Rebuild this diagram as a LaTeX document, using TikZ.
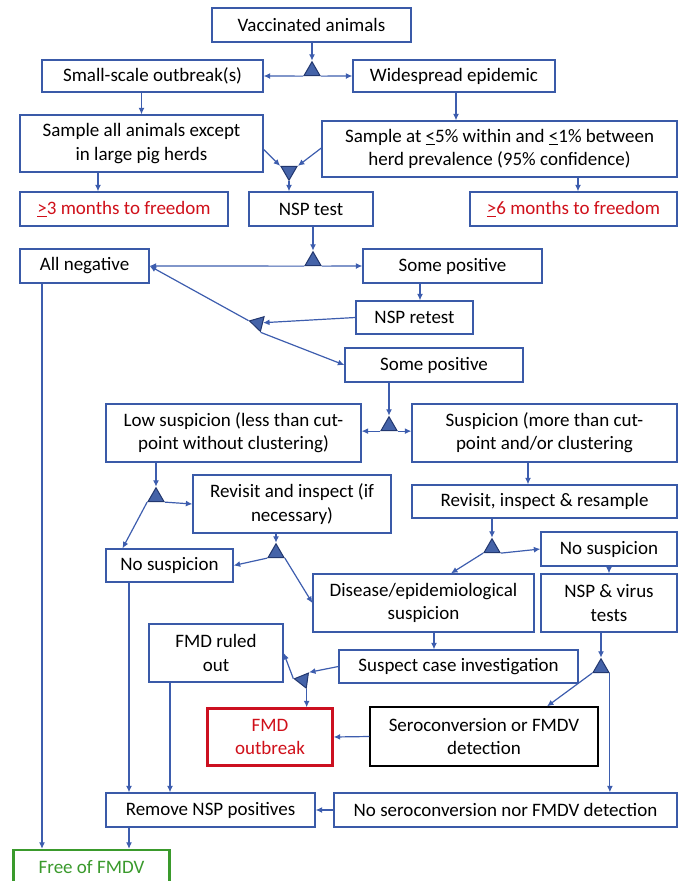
\documentclass[tikz,border=0pt]{standalone}
\usepackage{fontspec}
\setmainfont{Carlito}
\usetikzlibrary{shapes.geometric,arrows.meta}
\definecolor{bordblue}{HTML}{3A5AA8}
\definecolor{lineblue}{HTML}{3D5DAE}
\definecolor{trifill}{HTML}{4563A8}
\definecolor{tridraw}{HTML}{22376F}
\definecolor{redtxt}{HTML}{D0101A}
\definecolor{redbord}{HTML}{CC1020}
\definecolor{greenc}{HTML}{3A9A2C}
\begin{document}
\begin{tikzpicture}[x=1pt,y=-1pt,
  font=\fontsize{19}{23.3}\selectfont,
  box/.style={draw=bordblue,line width=1.3pt,fill=white,inner sep=0pt,align=center,text=black},
  redt/.style={box,text=redtxt},
  tri/.style={regular polygon,regular polygon sides=3,fill=trifill,draw=tridraw,line width=1pt,inner sep=0pt,minimum size=18.5pt},
  arr/.style={draw=lineblue,line width=1.2pt,-{Latex[length=6.5pt,width=6pt]}}]
\useasboundingbox (0,0) rectangle (679,881);
\clip (0,0) rectangle (679,881);
% boxes
\node[box,minimum width=199pt,minimum height=34pt] (va) at (311.5,25) {Vaccinated animals};
\node[box,minimum width=221pt,minimum height=32pt] (ss) at (152.5,76) {Small-scale outbreak(s)};
\node[box,minimum width=202pt,minimum height=32pt] (we) at (454,76) {Widespread epidemic};
\node[box,minimum width=243pt,minimum height=57pt] (sa) at (141.5,143.5) {Sample all animals except\\in large pig herds};
\node[box,minimum width=355pt,minimum height=56pt] (sb) at (499.5,149) {Sample at \underline{<}5\% within and \underline{<}1\% between\\herd prevalence (95\% confidence)};
\node[redt,minimum width=208pt,minimum height=34pt] (m3) at (124,209) {\underline{>}3 months to freedom};
\node[box,minimum width=124pt,minimum height=34pt] (nsp) at (311,209) {NSP test};
\node[redt,minimum width=207pt,minimum height=34pt] (m6) at (573.5,209) {\underline{>}6 months to freedom};
\node[box,minimum width=129pt,minimum height=34pt] (an) at (84.5,266) {All negative};
\node[box,minimum width=179pt,minimum height=34pt] (sp1) at (452.5,266) {Some positive};
\node[box,minimum width=117pt,minimum height=33pt] (rt) at (414.5,317.5) {NSP retest};
\node[box,minimum width=178pt,minimum height=34pt] (sp2) at (434,365) {Some positive};
\node[box,minimum width=255pt,minimum height=58pt] (low) at (233.5,433) {Low suspicion (less than cut-\\point without clustering)};
\node[box,minimum width=265pt,minimum height=58pt] (sus) at (544.5,433) {Suspicion (more than cut-\\point and/or clustering};
\node[box,minimum width=198pt,minimum height=58pt] (ri) at (292,504) {Revisit and inspect (if\\necessary)};
\node[box,minimum width=265pt,minimum height=33pt] (rr) at (544.5,501.5) {Revisit, inspect \& resample};
\node[box,minimum width=127pt,minimum height=33pt] (nl) at (169.5,565.5) {No suspicion};
\node[box,minimum width=136pt,minimum height=34pt] (nr) at (609,549) {No suspicion};
\node[box,minimum width=221pt,minimum height=58pt] (ds) at (423.5,603) {Disease/epidemiological\\suspicion};
\node[box,minimum width=136pt,minimum height=58pt] (nv) at (609,603) {NSP \& virus\\tests};
\node[box,minimum width=134pt,minimum height=58pt] (fr) at (216,653) {FMD ruled\\out};
\node[box,minimum width=239pt,minimum height=33pt] (sc) at (458.5,666.5) {Suspect case investigation};
\node[box,draw=redbord,line width=2.4pt,text=redtxt,minimum width=125pt,minimum height=57pt] (fo) at (270,737) {FMD\\outbreak};
\node[box,draw=black,minimum width=228pt,minimum height=59pt] (se) at (484,736.5) {Seroconversion or FMDV\\detection};
\node[box,minimum width=209pt,minimum height=34pt] (rm) at (210.5,810) {Remove NSP positives};
\node[box,minimum width=343pt,minimum height=34pt] (ns) at (505.5,810) {No seroconversion nor FMDV detection};
\node[box,draw=greenc,line width=2.4pt,text=greenc,minimum width=156pt,minimum height=34pt] (fv) at (91.5,867) {Free of FMDV};
% junction triangles
\node[tri] (t1) at (312,71) {};
\node[tri,rotate=180] (t2) at (289,171) {};
\node[tri] (t3) at (313,261) {};
\node[tri,rotate=196,minimum size=17.5pt] (t4) at (258,323) {};
\node[tri] (t5) at (389,426) {};
\node[tri] (t6) at (156,497) {};
\node[tri] (t7) at (276,553) {};
\node[tri] (t8) at (492,548) {};
\node[tri,rotate=202,minimum size=17.5pt] (t9) at (303,680) {};
\node[tri] (t10) at (601,668) {};
% connectors
\draw[arr] (va.south -| t1.corner 1) -- (t1.corner 1);
\draw[arr] (t1.corner 2) -- (ss.east);
\draw[arr] (t1.corner 3) -- (we.west);
\draw[arr] (ss.south -| sa.north) -- (sa.north);
\draw[arr] ([xshift=2pt]we.south) -- ([xshift=2pt]we.south |- sb.north);
\draw[arr] ([yshift=-6pt]sa.east) -- (t2.corner 3);
\draw[arr] ([yshift=1pt]sb.west) -- (t2.corner 2);
\draw[arr] (t2.corner 1) -- (t2.corner 1 |- nsp.north);
\draw[arr] ([xshift=-43.5pt]sa.south) -- ([xshift=-43.5pt]sa.south |- m3.north);
\draw[arr] ([xshift=78.5pt]sb.south) -- ([xshift=78.5pt]sb.south |- m6.north);
\draw[arr] (nsp.south -| t3.corner 1) -- (t3.corner 1);
\draw[arr] (t3.corner 2) -- (an.east);
\draw[arr] (t3.corner 3) -- (sp1.west);
\draw[arr] ([xshift=5.5pt]rt.north |- sp1.south) -- ([xshift=5.5pt]rt.north);
\draw[arr] (rt.west) -- (t4);
\draw[arr] (t4.corner 3) -- (an.east);
\draw[arr] (t4.corner 1) -- (sp2.west);
\draw[arr] (sp2.south -| t5.corner 1) -- (t5.corner 1);
\draw[arr] (t5.corner 2) -- (low.east |- t5.corner 2);
\draw[arr] (t5.corner 3) -- (sus.west |- t5.corner 3);
\draw[arr] ([xshift=-16.5pt]sus.south) -- ([xshift=-16.5pt]sus.south |- rr.north);
\draw[arr] (low.south -| t6.corner 1) -- (t6.corner 1);
\draw[arr] (t6.corner 3) -- (ri.west);
\draw[arr] (t6.corner 2) -- ([xshift=-47pt]nl.north);
\draw[arr] (ri.south -| t7.corner 1) -- (t7.corner 1);
\draw[arr] (t7.corner 2) -- (nl.east);
\draw[arr] (t7.corner 3) -- (ds.west);
\draw[arr] (rr.south -| t8.corner 1) -- (t8.corner 1);
\draw[arr] (t8.corner 3) -- (nr.west);
\draw[arr] (t8.corner 2) -- ([xshift=27.5pt]ds.north);
\draw[arr] (nr.south) -- (nv.north);
\draw[arr] ([xshift=10.5pt]ds.south) -- ([xshift=10.5pt]ds.south |- sc.north);
\draw[arr] (sc.west) -- (t9.corner 2);
\draw[arr] (t9.corner 3) -- (fr.east);
\draw[arr] (t9.corner 1) -- (t9.corner 1 |- fo.north);
\draw[arr] (nv.south -| t10.corner 1) -- (t10.corner 1);
\draw[arr] (t10.corner 2) -- ([xshift=63pt]se.north);
\draw[arr] (t10.corner 3) -- (t10.corner 3 |- ns.north);
\draw[arr] (se.west) -- (fo.east);
\draw[arr] (ns.west) -- (rm.east);
\draw[arr] ([xshift=-40.5pt]nl.south) -- ([xshift=-40.5pt]nl.south |- rm.north);
\draw[arr] ([xshift=-46pt]fr.south) -- ([xshift=-46pt]fr.south |- rm.north);
\draw[arr] ([xshift=-42.5pt]an.south) -- ([xshift=-42.5pt]an.south |- fv.north);
\draw[arr] ([xshift=-81.5pt]rm.south) -- ([xshift=-81.5pt]rm.south |- fv.north);
\end{tikzpicture}
\end{document}
